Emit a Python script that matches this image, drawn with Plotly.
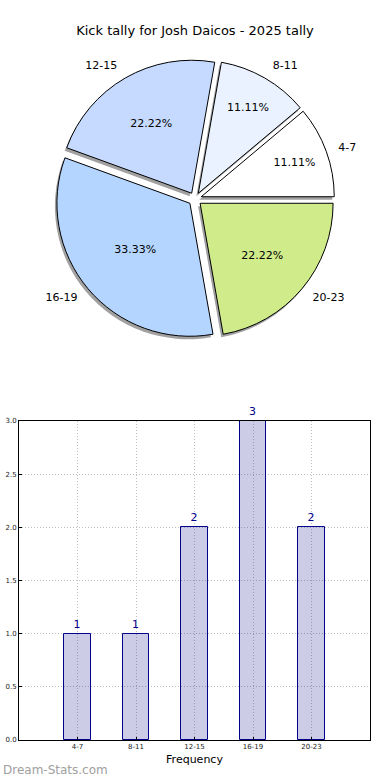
import plotly.graph_objects as go

title = "Kick tally for Josh Daicos - 2025 tally"
categories = ["4-7", "8-11", "12-15", "16-19", "20-23"]
counts = [1, 1, 2, 3, 2]
pie_colors = ["#ffffff", "#eaf2ff", "#c6daff", "#b4d5ff", "#d0eb8a"]
y_ticks = [0.0, 0.5, 1.0, 1.5, 2.0, 2.5, 3.0]
watermark = "Dream-Stats.com"

W, H = 390, 780
FONT = "DejaVu Sans"

# pie geometry (pixels)
cx, cy, r, pull = 195, 199, 133, 0.05
r_label = 142
ROT = 50  # first slice starts at 3 o'clock, counterclockwise

def dom(cx_, cy_, rad):
    half = rad * (1 + pull)
    return dict(x=[(cx_ - half) / W, (cx_ + half) / W],
                y=[(H - cy_ - half) / H, (H - cy_ + half) / H])

fig = go.Figure()

# shadow
fig.add_trace(go.Pie(
    labels=categories, values=counts, sort=False, direction="counterclockwise",
    rotation=ROT, pull=pull, domain=dom(cx - 2, cy + 3, r),
    marker=dict(colors=["#8a8a8a"] * 5, line=dict(width=0)),
    textinfo="none", hoverinfo="skip", showlegend=False, opacity=0.8))

# main pie with percentages
fig.add_trace(go.Pie(
    labels=categories, values=counts, sort=False, direction="counterclockwise",
    rotation=ROT, pull=pull, domain=dom(cx, cy, r),
    marker=dict(colors=pie_colors, line=dict(color="black", width=1)),
    texttemplate="%{percent:.2%}", textposition="inside",
    insidetextorientation="horizontal",
    textfont=dict(family=FONT, size=11, color="black"),
    showlegend=False))

# labels outside (transparent, slightly larger pie so labels sit further out)
fig.add_trace(go.Pie(
    labels=categories, values=counts, sort=False, direction="counterclockwise",
    rotation=ROT, pull=pull, domain=dom(cx, cy, r_label),
    marker=dict(colors=["rgba(0,0,0,0)"] * 5, line=dict(width=0)),
    texttemplate="%{label}", textposition="outside",
    outsidetextfont=dict(family=FONT, size=11, color="black"),
    hoverinfo="skip", showlegend=False))

# bar chart
fig.add_trace(go.Bar(
    x=categories, y=counts, width=0.45,
    marker=dict(color="rgba(0,0,128,0.2)", line=dict(color="#00008b", width=1)),
    text=[str(c) for c in counts], textposition="outside",
    textfont=dict(family=FONT, size=11, color="#00008b"),
    cliponaxis=False, showlegend=False, xaxis="x", yaxis="y"))

axis_common = dict(
    showline=True, linecolor="black", linewidth=1, mirror=True,
    showgrid=True, gridcolor="#c0c0c0", griddash="1px,2px", gridwidth=1,
    ticks="inside", ticklen=3, tickcolor="black", automargin=False,
    tickfont=dict(family=FONT, size=7, color="#222222"), zeroline=False)

fig.update_layout(
    width=W, height=H, margin=dict(l=0, r=0, t=0, b=0),
    paper_bgcolor="white", plot_bgcolor="white",
    font=dict(family=FONT),
    title=dict(text=title, x=0.5, xanchor="center", y=1 - 30 / H, yanchor="middle",
               font=dict(family=FONT, size=13, color="black")),
    xaxis=dict(domain=[19 / W, 370 / W], anchor="y", type="category",
               categoryorder="array", categoryarray=categories,
               range=[-1, 5],
               title=dict(text="Frequency", font=dict(family=FONT, size=11, color="black"),
                          standoff=4),
               **axis_common),
    yaxis=dict(domain=[40 / H, 359 / H], anchor="x", range=[0, 3],
               tickvals=y_ticks, tickformat=".1f", **axis_common),
    bargap=0,
    annotations=[dict(text=watermark, x=1 / W, y=(H - 770) / H, xref="paper", yref="paper",
                      xanchor="left", yanchor="middle", showarrow=False,
                      font=dict(family=FONT, size=12, color="#a0a0a0"))],
)

fig.write_html("out.html", config={"displayModeBar": False},
               post_script="document.body.style.margin='0';document.body.style.overflow='hidden';")
